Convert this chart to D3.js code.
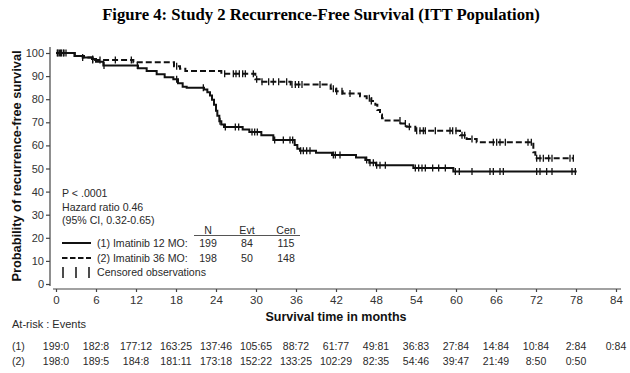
<!DOCTYPE html>
<html><head><meta charset="utf-8">
<script src="https://cdn.jsdelivr.net/npm/d3@7"></script>
<style>
html,body{margin:0;padding:0;background:#fff;}
svg{display:block;}
text{font-family:Arial,"Liberation Sans",sans-serif;fill:#2a2a2a;}
</style></head>
<body>
<script>
// ---------- data ----------
const titleText = "Figure 4: Study 2 Recurrence-Free Survival (ITT Population)";
const xTicks = [0,6,12,18,24,30,36,42,48,54,60,66,72,78,84];
const yTicks = [0,10,20,30,40,50,60,70,80,90,100];

// Imatinib 12 MO (solid): step times and survival (%)
const km1Times = [0,2.8,4.0,5.4,6.0,7.1,12.3,13.6,15.1,16.3,17.6,18.3,19.0,19.6,22.2,22.7,23.1,23.4,23.7,24.0,24.2,24.5,24.8,25.2,28.0,29.0,30.8,32.6,35.8,36.2,36.6,39.0,41.4,45.0,46.4,47.0,48.0,53.6,59.6];
const km1Surv  = [100,98.7,98.0,97.4,96.2,94.6,93.4,92.2,90.8,89.5,88.6,86.9,85.4,85.0,84.2,83.0,81.6,79.8,77.6,75.0,72.8,70.5,69.0,68.0,66.9,65.8,64.4,62.3,60.2,58.5,57.7,56.8,55.8,54.8,53.7,52.5,51.4,50.2,48.7];
const km1End = 78.1;
const cens1 = [0.2,0.5,0.8,1.1,1.5,4.0,5.5,7.2,12.2,18.1,22.1,24.6,25.4,26.9,27.4,29.4,29.8,30.2,32.8,34.1,35.1,35.5,36.7,37.1,37.6,38.1,41.6,41.9,42.6,46.6,47.1,47.6,48.1,48.6,49.4,53.9,54.4,54.9,55.4,56.5,57.4,58.4,59.9,60.5,62.4,65.1,65.6,66.6,67.1,72.1,72.6,73.6,74.4,77.4,77.9];

// Imatinib 36 MO (dashed)
const km2Times = [0,2.8,4.2,5.5,11.6,17.7,18.6,19.4,24.8,29.9,30.8,35.2,41.2,42.0,43.0,45.6,46.6,47.3,47.9,48.2,48.6,48.9,49.2,51.7,52.6,53.9,60.6,61.6,63.1,71.6,71.9];
const km2Surv  = [100,98.7,98.0,97.0,96.0,94.3,93.2,92.2,91.0,88.6,87.6,86.4,84.5,83.4,82.5,81.3,80.4,79.2,77.6,75.3,73.4,71.7,70.8,69.5,68.1,66.3,64.4,62.8,61.4,57.0,54.4];
const km2End = 77.6;
const cens2 = [0.3,0.7,1.2,5.5,6.6,8.9,11.3,18.1,25.3,26.6,27.0,27.5,28.0,28.4,29.6,30.1,30.9,31.9,32.6,33.4,34.6,35.4,35.9,36.4,36.9,39.6,41.6,42.1,42.9,44.1,47.0,47.3,51.6,52.4,53.0,54.1,54.6,55.1,55.4,56.9,59.1,59.5,60.0,60.9,61.3,62.4,65.6,66.1,66.6,67.4,70.8,71.3,72.1,72.6,73.1,73.9,74.4,77.1,77.6];

const statLines = ["P < .0001","Hazard ratio 0.46","(95% CI, 0.32-0.65)"];
const legendHeaders = ["N","Evt","Cen"];
const groupLabels = ["(1) Imatinib 12 MO:","(2) Imatinib 36 MO:"];
const groupN = [199,198];
const groupEvt = [84,50];
const groupCen = [115,148];
const censorLabel = "Censored observations";

const atRiskTitle = "At-risk : Events";
const atRiskRowLabels = ["(1)","(2)"];
const atRisk1 = ["199:0","182:8","177:12","163:25","137:46","105:65","88:72","61:77","49:81","36:83","27:84","14:84","10:84","2:84","0:84"];
const atRisk2 = ["198:0","189:5","184:8","181:11","173:18","152:22","133:25","102:29","82:35","54:46","39:47","21:49","8:50","0:50"];

// ---------- drawing ----------
const W = 630, H = 373;
const svg = d3.select("body").append("svg").attr("width", W).attr("height", H);

const x = d3.scaleLinear().domain([0,84]).range([56,616]);
const y = d3.scaleLinear().domain([0,100]).range([284,53]);

svg.append("text").attr("x", 321).attr("y", 20).attr("text-anchor","middle")
  .style("font-family","'Liberation Serif','Times New Roman',serif").style("font-weight","bold")
  .style("font-size","16.7px").style("fill","#000").text(titleText);

// y axis
const yAxis = d3.axisLeft(y).tickValues(yTicks).tickSize(4).tickSizeOuter(0).tickPadding(2);
const gy = svg.append("g").attr("transform","translate(50,0)").call(yAxis);
gy.select(".domain").attr("stroke","#444").attr("stroke-width",1.2).attr("d","M0,47V286");
gy.selectAll(".tick line").attr("stroke","#444").attr("stroke-width",1.2);
gy.selectAll(".tick text").style("font-size","11px").style("fill","#333").style("font-family","Arial");

// x axis
const xAxis = d3.axisBottom(x).tickValues(xTicks).tickSize(3).tickSizeOuter(0).tickPadding(4);
const gx = svg.append("g").attr("transform","translate(0,289)").call(xAxis);
gx.select(".domain").attr("stroke","#444").attr("stroke-width",1.2).attr("d","M53,0H621");
gx.selectAll(".tick line").attr("stroke","#444").attr("stroke-width",1.2);
gx.selectAll(".tick text").style("font-size","11.5px").style("fill","#333").style("font-family","Arial");

svg.append("text").attr("transform","translate(20.5,166) rotate(-90)").attr("text-anchor","middle")
  .style("font-weight","bold").style("font-size","12.8px").style("fill","#111")
  .text("Probability of recurrence-free survival");
svg.append("text").attr("x",336).attr("y",321).attr("text-anchor","middle")
  .style("font-weight","bold").style("font-size","12.5px").style("fill","#111")
  .text("Survival time in months");

// KM curves
function stepPoints(ts, ss, tEnd){
  const pts = ts.map((t,i)=>[t, ss[i]]);
  pts.push([tEnd, ss[ss.length-1]]);
  return pts;
}
function survAt(ts, ss, t){
  let s = ss[0];
  for(let i=0;i<ts.length;i++){ if(ts[i] <= t) s = ss[i]; }
  return s;
}
const line = d3.line().x(d=>x(d[0])).y(d=>y(d[1])).curve(d3.curveStepAfter);

const series = [
  {ts:km1Times, ss:km1Surv, end:km1End, cens:cens1, dash:null},
  {ts:km2Times, ss:km2Surv, end:km2End, cens:cens2, dash:"6,3"}
];
series.slice().reverse().forEach(s=>{
  svg.append("path").datum(stepPoints(s.ts, s.ss, s.end))
    .attr("d", line).attr("fill","none").attr("stroke","#111").attr("stroke-width",2)
    .attr("stroke-dasharray", s.dash);
  svg.append("g").selectAll("line").data(s.cens).join("line")
    .attr("x1", d=>x(d)).attr("x2", d=>x(d))
    .attr("y1", d=>y(survAt(s.ts, s.ss, d))-3.5).attr("y2", d=>y(survAt(s.ts, s.ss, d))+3.5)
    .attr("stroke","#111").attr("stroke-width",1.3);
});

// legend / stats
const lg = svg.append("g").style("font-size","10.6px");
statLines.forEach((t,i)=>{
  lg.append("text").attr("x",62).attr("y",197 + i*13.7).text(t);
});
const colX = [208,247,286];
legendHeaders.forEach((h,i)=>{
  lg.append("text").attr("x",colX[i]).attr("y",233.5).attr("text-anchor","middle").text(h);
});
lg.append("line").attr("x1",194).attr("x2",300).attr("y1",235.5).attr("y2",235.5).attr("stroke","#555").attr("stroke-width",1);
const rowY = [243,258];
groupLabels.forEach((g,i)=>{
  lg.append("line").attr("x1",62).attr("x2",91).attr("y1",rowY[i]).attr("y2",rowY[i])
    .attr("stroke","#111").attr("stroke-width",2).attr("stroke-dasharray", i===1 ? "5.5,2.5" : null);
  lg.append("text").attr("x",97).attr("y",rowY[i]+4).text(g);
  [groupN[i],groupEvt[i],groupCen[i]].forEach((v,j)=>{
    lg.append("text").attr("x",colX[j]).attr("y",rowY[i]+4).attr("text-anchor","middle").text(v);
  });
});
[63,76,89].forEach(cx=>{
  lg.append("line").attr("x1",cx).attr("x2",cx).attr("y1",267).attr("y2",278).attr("stroke","#111").attr("stroke-width",1.5);
});
lg.append("text").attr("x",97).attr("y",276).text(censorLabel);

// at-risk table
const ar = svg.append("g").style("font-size","10.5px");
ar.append("text").attr("x",12).attr("y",328).style("font-size","11px").text(atRiskTitle);
const arY = [350, 365];
[atRisk1, atRisk2].forEach((row,i)=>{
  ar.append("text").attr("x",12).attr("y",arY[i]).text(atRiskRowLabels[i]);
  row.forEach((v,j)=>{
    ar.append("text").attr("x",x(xTicks[j])).attr("y",arY[i]).attr("text-anchor","middle").text(v);
  });
});
</script>
</body></html>
